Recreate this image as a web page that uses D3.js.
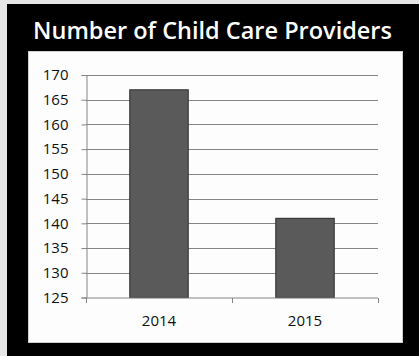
<!DOCTYPE html>
<html>
<head>
<meta charset="utf-8">
<script src="https://cdn.jsdelivr.net/npm/d3@7"></script>
<style>
  html, body { margin: 0; padding: 0; background: #e6e6e6; }
  svg { display: block; }
</style>
</head>
<body>
<svg id="chart" width="419" height="356"></svg>
<script>
// Chart data
const years = ["2014", "2015"];
const providers = [167, 141];
const yTicks = [125, 130, 135, 140, 145, 150, 155, 160, 165, 170];
const title = "Number of Child Care Providers";

const svg = d3.select("#chart");
const W = 419, H = 356;

// Grey page, black card, white plot panel
svg.append("rect").attr("width", W).attr("height", H).attr("fill", "#e6e6e6");
svg.append("rect").attr("x", 7).attr("y", 4).attr("width", W - 7).attr("height", H - 4).attr("fill", "#000");
svg.append("rect").attr("x", 28.5).attr("y", 51.5).attr("width", 374).attr("height", 291)
  .attr("fill", "#fdfdfd").attr("stroke", "#cfcfcf").attr("stroke-width", 1);

svg.append("text")
  .attr("x", 212.5).attr("y", 38.5)
  .attr("text-anchor", "middle")
  .attr("fill", "#fff")
  .attr("font-family", "'Open Sans', sans-serif")
  .attr("font-weight", 600)
  .attr("font-size", 23.5)
  .text(title);

const plot = { left: 86, right: 378, top: 75, bottom: 297.5 };

const y = d3.scaleLinear().domain([125, 170]).range([plot.bottom, plot.top]);
const x = d3.scaleBand().domain(years).range([plot.left, plot.right]).paddingInner(0.6).paddingOuter(0.3);

// Horizontal gridlines
svg.append("g")
  .selectAll("line")
  .data(yTicks.filter(t => t > 125))
  .join("line")
  .attr("x1", plot.left).attr("x2", plot.right)
  .attr("y1", d => Math.round(y(d)) + 0.5).attr("y2", d => Math.round(y(d)) + 0.5)
  .attr("stroke", "#858585").attr("stroke-width", 1);

// Bars
svg.append("g")
  .selectAll("rect")
  .data(years.map((yr, i) => ({ yr, v: providers[i] })))
  .join("rect")
  .attr("x", d => x(d.yr))
  .attr("y", d => y(d.v))
  .attr("width", x.bandwidth())
  .attr("height", d => plot.bottom - y(d.v))
  .attr("fill", "#5a5a5a")
  .attr("stroke", "#3a3a3a")
  .attr("stroke-width", 1.2);

// Y axis
const yAxis = d3.axisLeft(y).tickValues(yTicks).tickSize(5).tickPadding(13).tickFormat(d3.format("d"));
const gy = svg.append("g").attr("transform", `translate(${plot.left + 0.5},0)`).call(yAxis);
gy.select(".domain").attr("stroke", "#858585");
gy.selectAll(".tick line").attr("stroke", "#858585");
gy.selectAll(".tick text")
  .attr("fill", "#111")
  .attr("font-family", "'Open Sans', sans-serif")
  .attr("font-size", 15);

// X axis
const xAxis = d3.axisBottom(x).tickSize(0).tickPadding(17);
const gx = svg.append("g").attr("transform", `translate(0,${plot.bottom + 0.5})`).call(xAxis);
gx.select(".domain").attr("stroke", "#858585").attr("d", `M${plot.left},0H${plot.right}`);
gx.selectAll(".tick text")
  .attr("fill", "#111")
  .attr("font-family", "'Open Sans', sans-serif")
  .attr("font-size", 15);
// Category boundary ticks on the x axis
const xb = [plot.left, (x("2014") + x.bandwidth() + x("2015")) / 2, plot.right];
gx.selectAll(".bound").data(xb).join("line").attr("class", "bound")
  .attr("x1", d => Math.round(d) + 0.5).attr("x2", d => Math.round(d) + 0.5)
  .attr("y1", 0).attr("y2", 5).attr("stroke", "#858585");
</script>
</body>
</html>
